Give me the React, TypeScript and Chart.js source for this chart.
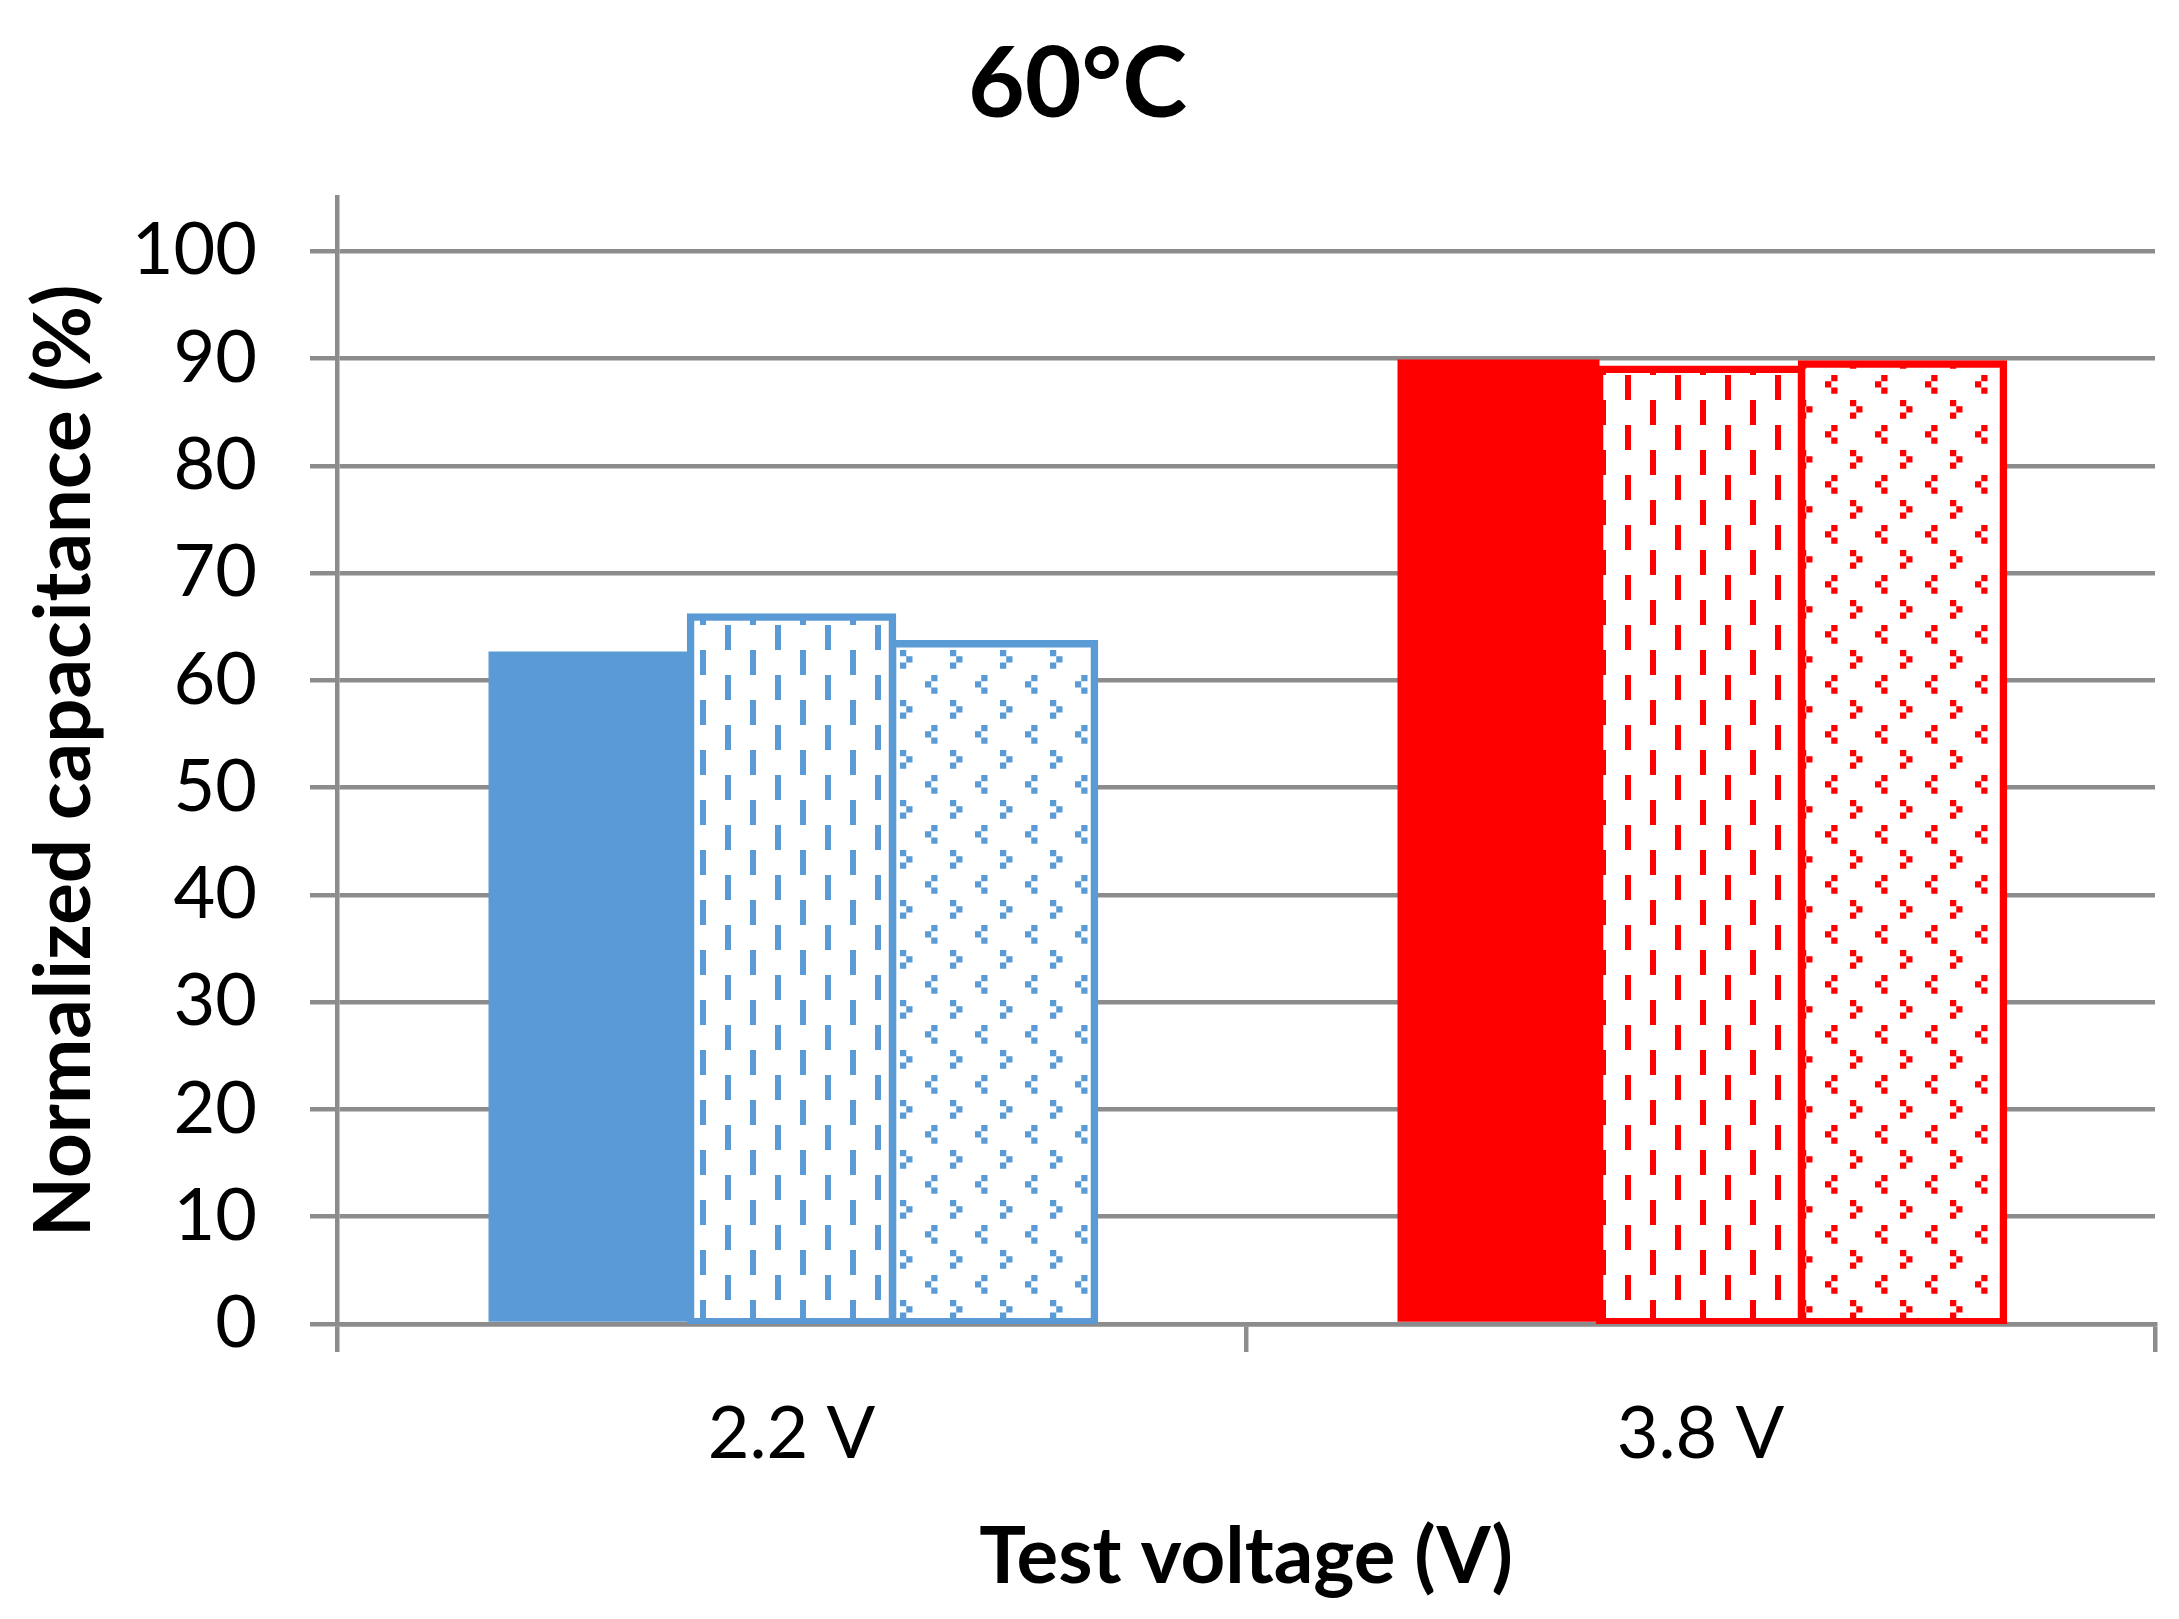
import React, { useEffect, useRef } from "react";
import { Chart, registerables } from "chart.js";

Chart.register(...registerables);

// data
const categories = ["2.2 V", "3.8 V"];
const solidValues = [62.7, 89.9];
const dashedValues = [65.9, 89.0];
const dottedValues = [63.4, 89.5];
const yTicks = [0, 10, 20, 30, 40, 50, 60, 70, 80, 90, 100];
const barColors = ["#5B9BD5", "#FF0000"];

const FONT = "Lato";
const GRID = "#8C8C8C";

const makeDashPattern = (color: string) => {
  const c = document.createElement("canvas");
  c.width = 50;
  c.height = 50;
  const g = c.getContext("2d")!;
  g.fillStyle = "#ffffff";
  g.fillRect(0, 0, 50, 50);
  g.fillStyle = color;
  g.fillRect(0, 0, 6, 25);
  g.fillRect(25, 25, 6, 25);
  return g.createPattern(c, "repeat");
};

const makeChevronPattern = (color: string) => {
  const c = document.createElement("canvas");
  c.width = 50;
  c.height = 50;
  const g = c.getContext("2d")!;
  g.fillStyle = "#ffffff";
  g.fillRect(0, 0, 50, 50);
  g.fillStyle = color;
  const cell = 6.25;
  // ">" then "<" in an 8x8 grid
  const cells = [
    [0, 0], [1, 1], [0, 2],
    [5, 4], [4, 5], [5, 6],
  ];
  cells.forEach(([cx, cy]) => g.fillRect(cx * cell, cy * cell, cell, cell));
  return g.createPattern(c, "repeat");
};

const App = () => {
  const chartRef = useRef<HTMLCanvasElement>(null);

  useEffect(() => {
    document.body.style.margin = "0";
    if (!chartRef.current) return;

    const myChart = new Chart(chartRef.current, {
      type: "bar",
      data: {
        labels: categories,
        datasets: [
          {
            label: "solid",
            data: solidValues,
            backgroundColor: barColors,
            borderWidth: 0,
          },
          {
            label: "dashed",
            data: dashedValues,
            backgroundColor: barColors.map((c) => makeDashPattern(c)),
            borderColor: barColors,
            borderWidth: 7.5,
            borderSkipped: false,
            inflateAmount: 3.75,
          },
          {
            label: "dotted",
            data: dottedValues,
            backgroundColor: barColors.map((c) => makeChevronPattern(c)),
            borderColor: barColors,
            borderWidth: 7.5,
            borderSkipped: false,
            inflateAmount: 3.75,
          },
        ],
      } as any,
      options: {
        animation: false,
        responsive: true,
        maintainAspectRatio: false,
        devicePixelRatio: 1,
        layout: { padding: { left: 0, right: 24, top: 0, bottom: 0 } },
        datasets: { bar: { categoryPercentage: 2 / 3, barPercentage: 1 } },
        plugins: {
          legend: { display: false },
          tooltip: { enabled: false },
          title: {
            display: true,
            text: "60°C",
            color: "#000",
            font: { family: FONT, size: 98, weight: "bold" },
            padding: { top: 27, bottom: 53 },
          },
        },
        scales: {
          x: {
            grid: {
              offset: true,
              drawOnChartArea: false,
              drawTicks: true,
              tickLength: 28,
              color: GRID,
              lineWidth: 4.5,
            },
            border: { display: true, color: GRID, width: 4.5 },
            ticks: { color: "#000", font: { family: FONT, size: 72 }, padding: 40 },
            title: {
              display: true,
              text: "Test voltage (V)",
              color: "#000",
              font: { family: FONT, size: 78, weight: "bold" },
              padding: { top: 0, bottom: 14 },
            },
            afterFit: (s: any) => {
              s.height = 295;
            },
          },
          y: {
            min: 0,
            max: 105,
            ticks: {
              color: "#000",
              font: { family: FONT, size: 72 },
              padding: 53,
            },
            afterBuildTicks: (s: any) => {
              s.ticks = yTicks.map((v) => ({ value: v }));
            },
            grid: { color: GRID, lineWidth: 4.5, tickLength: 27 },
            border: { display: true, color: GRID, width: 4.5 },
            title: {
              display: true,
              text: "Normalized capacitance (%)",
              color: "#000",
              font: { family: FONT, size: 78, weight: "bold" },
              padding: { top: 18, bottom: 0 },
            },
            afterFit: (s: any) => {
              s.width = 337;
            },
          },
        },
      } as any,
    });

    return () => {
      myChart.destroy();
    };
  }, []);

  return (
    <div style={{ position: "relative", width: 2179, height: 1619 }}>
      <canvas ref={chartRef} />
    </div>
  );
};

export default App;
